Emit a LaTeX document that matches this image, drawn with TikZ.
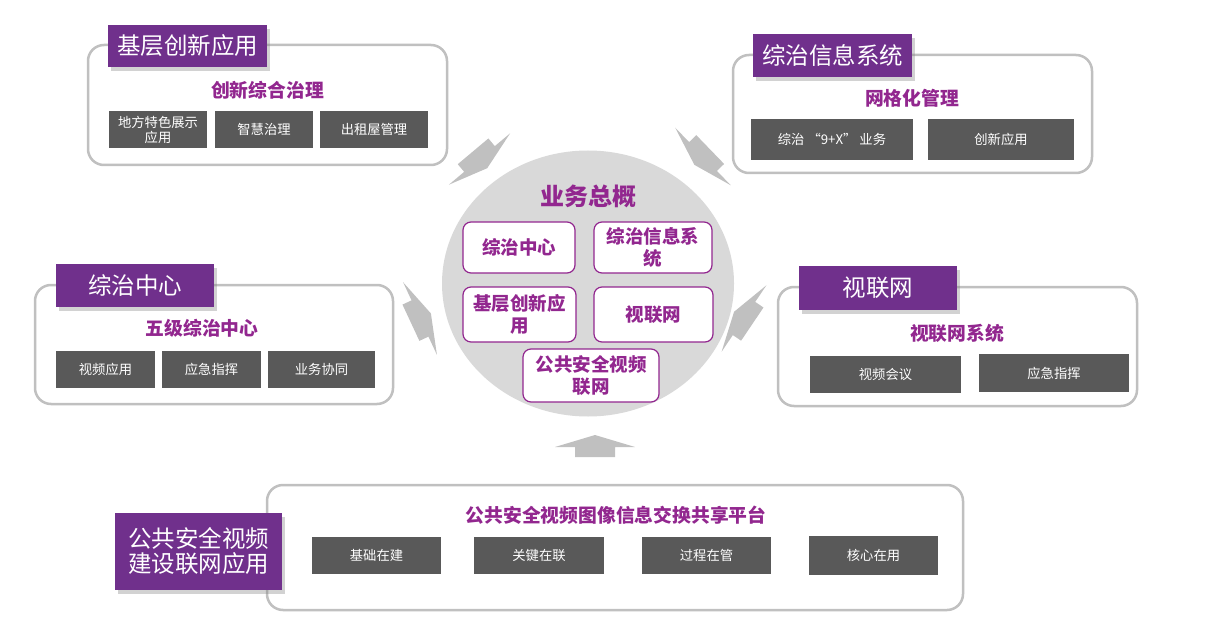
\documentclass[tikz,border=0pt]{standalone}
\usepackage{fontspec}
\setmainfont{Noto Sans CJK SC}
\usepackage{xcolor}
\usetikzlibrary{positioning,shadows,shapes.geometric}

\definecolor{tagpurple}{RGB}{112,48,140}
\definecolor{ttlpurple}{RGB}{146,39,143}
\definecolor{boxgray}{RGB}{89,89,89}
\definecolor{rimgray}{RGB}{192,192,192}
\definecolor{hubgray}{RGB}{217,217,217}

\begin{document}
\begin{tikzpicture}[
		x=1pt, y=-1pt,
		panel/.style={draw=rimgray, line width=2.5pt, rounded corners=16pt, fill=white, inner sep=0pt},
		tag/.style={fill=tagpurple, text=white, inner sep=0pt, align=center,
			font=\fontsize{23.5}{25}\selectfont,
			drop shadow={shadow xshift=3pt, shadow yshift=-4pt, opacity=0.35}},
		ttl/.style={text=ttlpurple, inner sep=0pt, font=\bfseries\fontsize{18.8}{22}\selectfont},
		gbox/.style={fill=boxgray, text=white, inner sep=0pt, align=center,
			font=\fontsize{13.3}{15}\selectfont},
		ibox/.style={draw=ttlpurple, line width=1.2pt, rounded corners=8pt, fill=white,
			text=ttlpurple, inner sep=0pt, align=center,
			font=\bfseries\fontsize{18.5}{21.5}\selectfont},
		hub/.style={ellipse, fill=hubgray, inner sep=0pt},
		blk/.style={fill=rimgray}
		]
		\useasboundingbox[fill=white] (0,0) rectangle (1230,636);
		% centre
		\node[hub, minimum width=292pt, minimum height=266pt] (hub) at (588,283.5) {};
		\node[ttl, font=\bfseries\fontsize{24}{26}\selectfont] (hubttl) at (588.5,196) {业务总概};
		\node[ibox, minimum width=112pt, minimum height=51pt] (cZZ) at (519,247.5) {综治中心};
		\node[ibox, minimum width=118pt, minimum height=51pt] (cXT) at (653,247.5) {综治信息系\\统};
		\node[ibox, minimum width=113pt, minimum height=55pt] (cJC) at (519.5,314.5) {基层创新应\\用};
		\node[ibox, minimum width=119pt, minimum height=55pt] (cSL) at (653.5,314.5) {视联网};
		\node[ibox, minimum width=136pt, minimum height=53pt] (cGG) at (591,375.5) {公共安全视频\\联网};
		% top left
		\node[panel, minimum width=359pt, minimum height=120pt] (pnlA) at (267.5,105) {};
		\node[tag, minimum width=159pt, minimum height=42pt] (tagA) at (187.5,46) {基层创新应用};
		\node[ttl] (ttlA) at (267.5,90) {创新综合治理};
		\node[gbox, minimum width=98pt, minimum height=37pt] (a1) at (158,129.5)
		{地方特色展示\\应用};
		\node[gbox, minimum width=98pt, minimum height=37pt] (a2) at (264,129.5) {智慧治理};
		\node[gbox, minimum width=108pt, minimum height=37pt] (a3) at (374,129.5) {出租屋管理};
		% top right
		\node[panel, minimum width=359pt, minimum height=118pt] (pnlB) at (912.5,114) {};
		\node[tag, minimum width=159pt, minimum height=43pt] (tagB) at (832.5,55.5) {综治信息系统};
		\node[ttl] (ttlB) at (912,98) {网格化管理};
		\node[gbox, minimum width=162pt, minimum height=41pt] (b1) at (832,139.5) {综治 “9+X” 业务};
		\node[gbox, minimum width=146pt, minimum height=41pt] (b2) at (1001,139.5) {创新应用};
		% middle left
		\node[panel, minimum width=358pt, minimum height=119pt] (pnlC) at (214,344.5) {};
		\node[tag, minimum width=158pt, minimum height=43pt] (tagC) at (135,285.5) {综治中心};
		\node[ttl] (ttlC) at (202,328) {五级综治中心};
		\node[gbox, minimum width=99pt, minimum height=37pt] (c1) at (105.5,369.5) {视频应用};
		\node[gbox, minimum width=99pt, minimum height=37pt] (c2) at (211.5,369.5) {应急指挥};
		\node[gbox, minimum width=107pt, minimum height=37pt] (c3) at (321.5,369.5) {业务协同};
		% middle right
		\node[panel, minimum width=359pt, minimum height=119pt] (pnlD) at (957.5,346.5) {};
		\node[tag, minimum width=158pt, minimum height=44pt] (tagD) at (878,288) {视联网};
		\node[ttl] (ttlD) at (957,333) {视联网系统};
		\node[gbox, minimum width=151pt, minimum height=37pt] (d1) at (885.5,374.5) {视频会议};
		\node[gbox, minimum width=150pt, minimum height=38pt] (d2) at (1054,373) {应急指挥};
		% bottom
		\node[panel, minimum width=696pt, minimum height=125pt] (pnlE) at (615,547.5) {};
		\node[tag, minimum width=167pt, minimum height=77pt] (tagE) at (198.5,551.5)
		{公共安全视频\\建设联网应用};
		\node[ttl] (ttlE) at (616,515) {公共安全视频图像信息交换共享平台};
		\node[gbox, minimum width=129pt, minimum height=37pt] (e1) at (376.5,555.5) {基础在建};
		\node[gbox, minimum width=130pt, minimum height=37pt] (e2) at (539,555.5) {关键在联};
		\node[gbox, minimum width=129pt, minimum height=37pt] (e3) at (706.5,555.5) {过程在管};
		\node[gbox, minimum width=129pt, minimum height=39pt] (e4) at (873.5,555.5) {核心在用};
		% block arrows towards the centre
		\foreach \px/\py/\ang in {479.5/159/-140, 703/156.5/134, 420/318.5/-65, 744/318.5/56, 595/447/0}
		\fill[blk, shift={(\px,\py)}, rotate=\ang]
		(-20,10) -- (-20,0) -- (-40,0) -- (0,-12) -- (40,0) -- (20,0) -- (20,10) -- cycle;
	\end{tikzpicture}
\end{document}
